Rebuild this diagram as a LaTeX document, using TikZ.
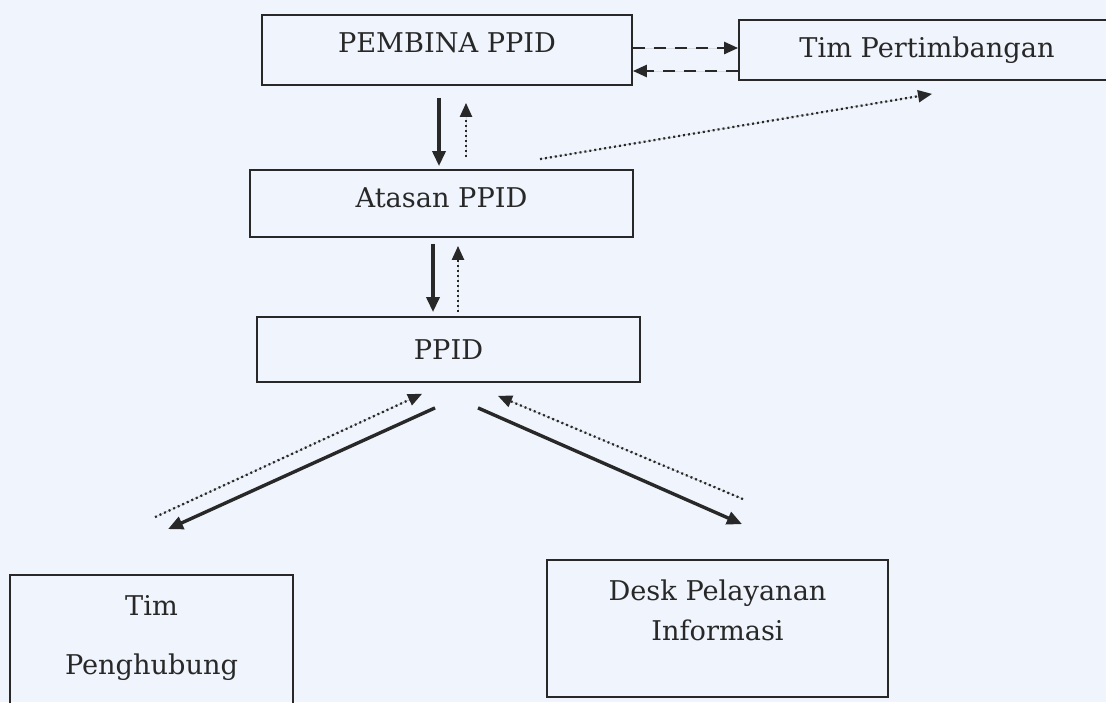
\documentclass[tikz,border=0pt]{standalone}
\usepackage{fontspec}
\setmainfont{DejaVu Serif}
\usepackage{tikz}
\usetikzlibrary{arrows.meta,calc}
\definecolor{paperblue}{RGB}{240,244,252}
\definecolor{inkgray}{RGB}{40,40,40}

\begin{document}
\begin{tikzpicture}[
    x=0.5pt, y=-0.5pt,
    box/.style={rectangle, draw=inkgray, line width=0.9pt, inner sep=0pt},
    txt/.style={font=\fontsize{13.6}{16}\selectfont, text=inkgray},
    solidarr/.style={-{Triangle[length=7.5pt,width=6.5pt]}, line width=1.7pt, draw=inkgray, fill=inkgray},
    dotarr/.style={-{Triangle[length=7pt,width=6pt]}, line width=1.1pt, dash pattern=on 1pt off 1.5pt, draw=inkgray, fill=inkgray},
    dasharr/.style={-{Triangle[length=7pt,width=6pt]}, line width=1.3pt, dash pattern=on 6pt off 4.5pt, draw=inkgray, fill=inkgray}
]
\useasboundingbox (0,0) rectangle (1106,702);
\fill[paperblue] (0,0) rectangle (1106,702);

% Boxes
\node[box, minimum width=185pt, minimum height=35pt, label={[txt, yshift=3.5pt]center:PEMBINA PPID}] (pembina) at (447,50) {};
\node[box, minimum width=187pt, minimum height=30pt, label={[txt, xshift=0.5pt]center:Tim Pertimbangan}] (timp) at (926,50) {};
\node[box, minimum width=191.5pt, minimum height=33.5pt, label={[txt, yshift=2.75pt]center:Atasan PPID}] (atasan) at (441.5,203.5) {};
\node[box, minimum width=191.5pt, minimum height=32.5pt, label={[txt]center:PPID}] (ppid) at (448.5,349.5) {};
\node[box, minimum width=141.5pt, minimum height=67.5pt,
      label={[txt, align=center, font=\fontsize{13.6}{29.5}\selectfont, yshift=2.5pt]center:Tim\\Penghubung}] (tph) at (151.5,642.5) {};
\node[box, minimum width=170.5pt, minimum height=68.5pt,
      label={[txt, align=center, font=\fontsize{13.6}{20}\selectfont, yshift=9pt]center:Desk Pelayanan\\Informasi}] (desk) at (717.5,628.5) {};

% Connectors
\draw[solidarr] ($(pembina.south)+(-8,12)$) -- ($(atasan.north)+(-2.5,-3)$);
\draw[dotarr] ($(atasan.north)+(24.5,-12)$) -- ($(pembina.south)+(19,17)$);
\draw[dotarr] ($(atasan.north)+(98.5,-10)$) -- ($(timp.south)+(6,13)$);
\draw[dasharr] ($(pembina.east)+(0,-2)$) -- ($(timp.west)+(0,-2)$);
\draw[dasharr] ($(timp.west)+(0,21)$) -- ($(pembina.east)+(0,21)$);
\draw[solidarr] ($(atasan.south)+(-8.5,6)$) -- ($(ppid.north)+(-15.5,-4)$);
\draw[dotarr] ($(ppid.north)+(9.5,-4)$) -- ($(atasan.south)+(16.5,8)$);
\draw[solidarr] ($(ppid.south)+(-13.5,25)$) -- ($(tph.north)+(16.5,-45)$);
\draw[dotarr] ($(tph.north)+(3.5,-57)$) -- ($(ppid.south)+(-26.5,11)$);
\draw[solidarr] ($(ppid.south)+(29.5,25)$) -- ($(desk.north)+(24.5,-35)$);
\draw[dotarr] ($(desk.north)+(25.5,-60)$) -- ($(ppid.south)+(49.5,13)$);
\end{tikzpicture}
\end{document}
